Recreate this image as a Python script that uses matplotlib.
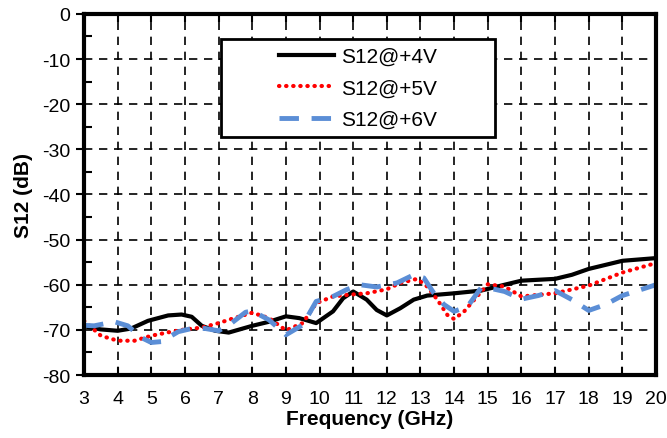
import matplotlib.pyplot as plt
from matplotlib.patches import Rectangle
from matplotlib.ticker import MultipleLocator

plt.rcParams['font.family'] = ['Liberation Sans', 'DejaVu Sans']
plt.rcParams['axes.unicode_minus'] = False

# Data (frequency in GHz, S12 in dB)
freq_4v = [3, 3.5, 4, 4.4, 4.9, 5.5, 5.9, 6.2, 6.5, 6.9, 7.3, 8, 8.5, 9, 9.4,
           9.9, 10.4, 10.7, 11, 11.4, 11.7, 12, 12.4, 12.8, 13.2, 14, 14.8,
           15.5, 16, 17, 17.5, 18, 19, 20]
s12_4v = [-69.2, -69.9, -70.2, -69.7, -68.0, -66.8, -66.6, -67.1, -69.1, -70.2,
          -70.6, -69.1, -68.2, -67.0, -67.4, -68.5, -65.9, -63.0, -61.5, -63.3,
          -65.6, -66.8, -65.2, -63.3, -62.4, -61.9, -61.3, -60.0, -59.1, -58.7,
          -57.8, -56.5, -54.7, -54.1]

freq_5v = [3, 3.5, 4, 4.5, 5, 5.6, 6, 6.5, 7, 7.5, 8, 8.5, 9, 9.5, 9.9, 10.4,
           10.9, 11.4, 12, 12.4, 12.9, 13.2, 13.5, 13.8, 14, 14.3, 14.6, 15,
           15.5, 16, 17, 18, 19, 20]
s12_5v = [-68.0, -71.3, -72.4, -72.4, -71.3, -70.4, -69.9, -69.5, -68.5, -67.3,
          -66.2, -67.4, -70.1, -68.5, -64.1, -62.6, -62.2, -61.9, -61.0, -59.6,
          -58.7, -60.4, -63.3, -66.7, -67.6, -65.9, -63.3, -59.9, -60.4, -62.6,
          -61.9, -60.2, -57.3, -55.2]

freq_6v = [3, 3.3, 3.9, 4.3, 4.7, 5, 5.3, 5.8, 6.2, 6.6, 7, 7.4, 7.8, 8, 8.5,
           9, 9.5, 9.9, 10.4, 10.8, 11.2, 11.7, 12.3, 12.8, 13.1, 13.4, 13.7,
           14, 14.4, 14.8, 15.2, 15.5, 16, 16.5, 17, 17.5, 18, 18.5, 19, 20]
s12_6v = [-69.0, -69.1, -68.2, -69.1, -71.7, -72.8, -72.6, -70.4, -69.7, -69.7,
          -70.2, -68.4, -66.1, -65.8, -67.8, -71.1, -68.9, -63.7, -62.6, -61.1,
          -60.0, -60.5, -59.6, -57.8, -58.5, -61.9, -64.4, -65.9, -64.8, -60.7,
          -61.0, -61.5, -63.2, -62.4, -61.3, -63.3, -65.7, -64.4, -62.4, -60.0]

fig = plt.figure(figsize=(6.67, 4.39), dpi=100)
ax = fig.add_axes([0.126, 0.1435, 0.8575, 0.8225])

ax.plot(freq_4v, s12_4v, color='black', lw=3, label='S12@+4V')
ax.plot(freq_5v, s12_5v, color='red', lw=3, linestyle=(0, (0.1, 1.6)),
        dash_capstyle='round', label='S12@+5V')
ax.plot(freq_6v, s12_6v, color='#5B8ED6', lw=3.5, linestyle=(0, (4, 2.6)),
        label='S12@+6V')

ax.set_xlim(3, 20)
ax.set_ylim(-80, 0)
ax.xaxis.set_major_locator(MultipleLocator(1))
ax.yaxis.set_major_locator(MultipleLocator(10))
ax.yaxis.set_minor_locator(MultipleLocator(5))
ax.grid(True, which='major', color='black', linestyle=(0, (5, 4)), lw=1.2)

ax.tick_params(axis='both', labelsize=14, width=1.5)
ax.tick_params(axis='x', direction='in', top=True, length=6, pad=11)
ax.tick_params(axis='y', which='major', direction='out', length=6, pad=4)
ax.tick_params(axis='y', which='minor', direction='in', length=6, width=1.5)

for s in ax.spines.values():
    s.set_linewidth(3)

ax.set_xlabel('Frequency (GHz)', fontsize=15, fontweight='bold', labelpad=1)
ax.set_ylabel('S12 (dB)', fontsize=15, fontweight='bold', labelpad=6)

# legend box drawn separately so the entries can sit centred inside it
box = Rectangle((0.2395, 0.659), 0.479, 0.272, transform=ax.transAxes,
                facecolor='white', edgecolor='black', lw=2, zorder=4)
ax.add_patch(box)
leg = ax.legend(loc='center', bbox_to_anchor=(0.479, 0.795), frameon=False,
                fontsize=15, handlelength=2.6, labelspacing=0.6,
                handletextpad=0.35, borderaxespad=0)
leg.set_zorder(5)

fig.savefig('out.png', dpi=100)
